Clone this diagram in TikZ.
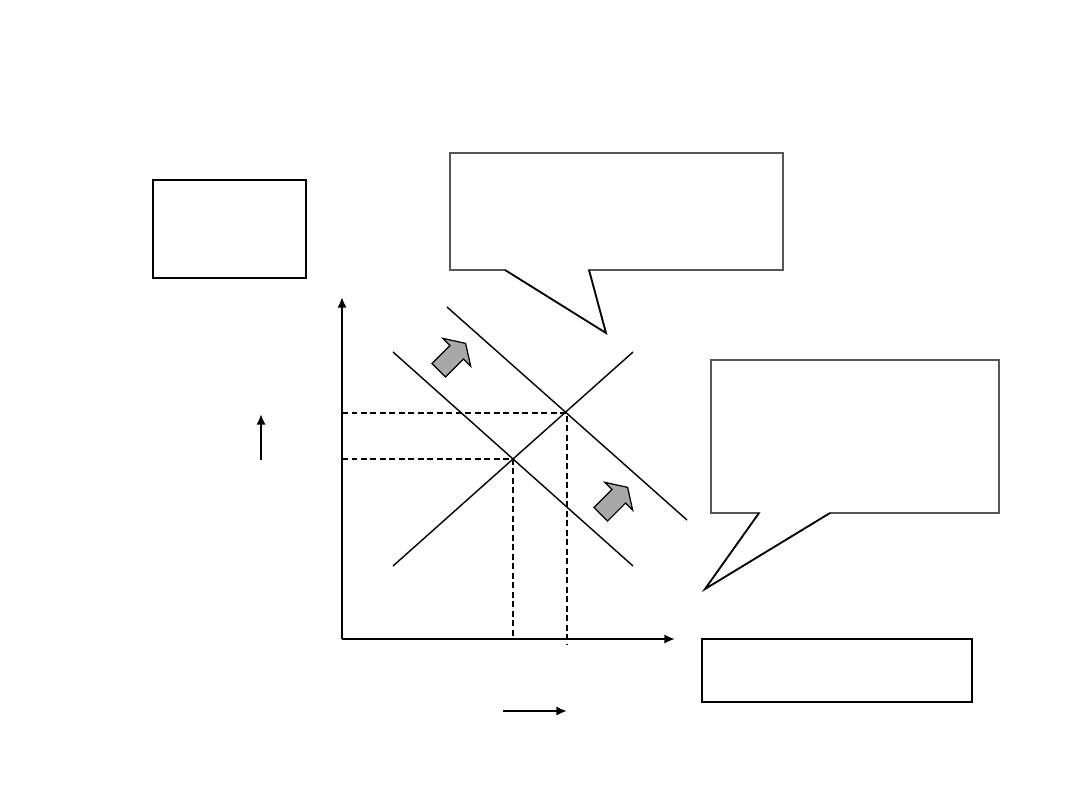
\documentclass[tikz,border=0pt]{standalone}
\usepackage{xcolor}
\usepackage{tikz}
\usetikzlibrary{arrows.meta,positioning,shapes.arrows}
\definecolor{Frame}{HTML}{555555}
\definecolor{Shift}{HTML}{A8A8A8}

\begin{document}
\begin{tikzpicture}[x=0.01cm,y=-0.01cm,>={Latex[length=3pt,width=2.6pt]}]
  \tikzset{
    box/.style={draw,line width=0.75pt,minimum width=#1,inner sep=0pt},
    callout/.style={draw=Frame,line width=0.5pt,line join=miter},
    tail/.style={draw=black,line width=0.45pt},
    curve/.style={line width=0.4pt},
    axis/.style={line width=0.75pt},
    guide/.style={line width=0.6pt,dash pattern=on 1.7pt off 1pt},
    shiftarrow/.style={single arrow,draw,fill=Shift,line width=0.35pt,rotate=45,
      minimum height=0.38cm,minimum width=0.38cm,inner xsep=0pt,inner ysep=0.09cm,
      single arrow head extend=0.1cm,single arrow tip angle=115},
    hint/.style={line width=0.75pt,->}
  }
  \useasboundingbox (0,0) rectangle (1080,810);
  % plain boxes
  \node[box=1.53cm,minimum height=0.98cm] (price) at (229.5,229) {};
  \node[box=2.70cm,minimum height=0.63cm] (qty) at (837,670.5) {};
  % speech bubbles
  \draw[callout] (450,153) -- (783,153) -- (783,270) -- (589,270) -- (606,333)
    -- (505,270) -- (450,270) -- cycle;
  \draw[tail] (589,270) -- (606,333) -- (505,270);
  \draw[callout] (711,360) -- (999,360) -- (999,513) -- (830,513) -- (705,589)
    -- (759,513) -- (711,513) -- cycle;
  \draw[tail] (830,513) -- (705,589) -- (759,513);
  % axes
  \coordinate (O) at (342,639);
  \coordinate (ytop) at (342,297);
  \coordinate (xend) at (675,639);
  \draw[axis,->] (O) -- (ytop);
  \draw[axis,->] (O) -- (xend);
  % supply and the two demand curves
  \coordinate (s1) at (393,566); \coordinate (s2) at (633,352);
  \coordinate (d1) at (393,352); \coordinate (d2) at (633,566);
  \coordinate (e1) at (447,307); \coordinate (e2) at (687,520);
  \draw[curve] (s1) -- (s2);
  \draw[curve] (d1) -- (d2);
  \draw[curve] (e1) -- (e2);
  % equilibria
  \coordinate (eqA) at (513,459);
  \coordinate (eqB) at (567,413);
  \draw[guide] (342,459) -- (eqA) -- (513,639);
  \draw[guide] (342,413) -- (eqB) -- (567,645);
  % shift arrows
  \node[shiftarrow] (up1) at (450,359) {};
  \node[shiftarrow] (up2) at (612,503) {};
  % small direction arrows
  \coordinate (pa) at (261,460); \coordinate (pb) at (261,414);
  \draw[hint] (pa) -- (pb);
  \coordinate (qa) at (503,711); \coordinate (qb) at (567,711);
  \draw[hint] (qa) -- (qb);
\end{tikzpicture}
\end{document}
